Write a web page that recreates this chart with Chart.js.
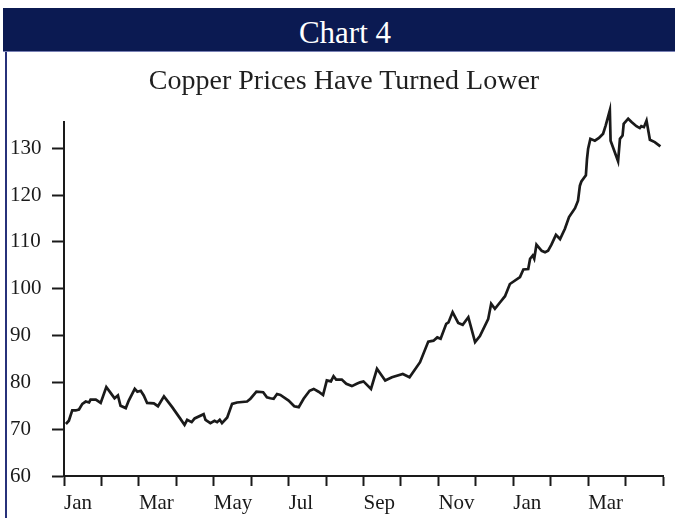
<!DOCTYPE html>
<html>
<head>
<meta charset="utf-8">
<script src="https://cdn.jsdelivr.net/npm/chart.js@4"></script>
<style>
html,body{margin:0;padding:0;background:#fff;width:675px;height:518px;overflow:hidden;}
#wrap{position:absolute;left:0;top:0;width:675px;height:518px;}
#band{position:absolute;left:3px;top:8px;width:672px;height:44px;background:#0b1a52;border-bottom:1px solid #7880b4;box-sizing:border-box;}
#band span{position:absolute;left:342px;transform:translateX(-50%);top:9px;color:#fff;font-family:"Liberation Serif",serif;font-size:31px;line-height:1;white-space:nowrap;}
#rule{position:absolute;left:5px;top:52px;width:2px;height:466px;background:#27317a;}
#sub{position:absolute;left:344px;transform:translateX(-50%);top:66px;font-family:"Liberation Serif",serif;font-size:28px;line-height:1;color:#1f1f1f;white-space:nowrap;}
</style>
</head>
<body>
<div id="wrap"><canvas id="c" width="675" height="518"></canvas></div>
<div id="band"><span>Chart 4</span></div>
<div id="rule"></div>
<div id="sub">Copper Prices Have Turned Lower</div>
<script>
// Month tick labels (one tick per month, Jan of year 1 to May of year 2)
const monthLabels = ['Jan','Feb','Mar','Apr','May','Jun','Jul','Aug','Sep','Oct','Nov','Dec','Jan','Feb','Mar','Apr','May'];
// Y tick values
const yTicks = [60, 70, 80, 90, 100, 110, 120, 130];
// Position of each observation, in months since the start of the first January
const monthPos = [
  0.05,0.13,0.22,0.31,0.40,0.49,0.58,0.67,0.71,0.85,0.98,
  1.13,1.25,1.35,1.44,1.51,1.65,1.73,1.89,1.96,
  2.05,2.13,2.22,2.40,2.51,2.67,2.89,
  3.11,3.22,3.29,3.41,3.49,3.73,3.78,3.91,
  4.02,4.09,4.16,4.22,4.36,4.49,4.62,4.89,4.98,
  5.14,5.32,5.42,5.51,5.60,5.69,5.78,
  6.00,6.15,6.27,6.40,6.56,6.67,6.80,6.92,
  7.02,7.13,7.20,7.27,7.42,7.54,7.69,7.82,7.91,
  8.00,8.20,8.36,8.58,8.76,
  9.05,9.23,9.51,9.73,9.87,9.97,
  10.06,10.21,10.27,10.38,10.53,10.65,10.80,10.98,
  11.11,11.33,11.41,11.51,11.65,11.78,11.91,
  12.18,12.27,12.40,12.45,12.52,12.56,12.62,12.76,12.85,12.93,
  13.02,13.14,13.25,13.38,13.49,13.65,13.73,13.78,13.82,13.94,13.97,
  14.00,14.06,14.18,14.29,14.40,14.47,14.58,14.60,14.80,14.85,14.92,14.95,
  15.07,15.16,15.29,15.38,15.42,15.49,15.56,15.65,15.78,15.93
];
// Copper price index
const price = [
  71.1,71.8,74.0,74.0,74.2,75.4,75.9,75.7,76.3,76.3,75.6,
  79.0,77.7,76.6,77.2,75.0,74.5,76.1,78.6,78.0,
  78.2,77.2,75.6,75.5,74.9,77.0,74.7,
  72.2,70.9,72.0,71.5,72.3,73.2,72.0,71.3,
  71.8,71.5,72.0,71.3,72.5,75.4,75.7,75.9,76.5,
  78.0,77.9,76.8,76.6,76.5,77.5,77.3,
  76.1,74.9,74.7,76.5,78.2,78.6,78.0,77.3,
  80.4,80.2,81.3,80.6,80.6,79.7,79.2,79.7,80.0,
  80.2,78.6,82.9,80.4,81.1,
  81.8,81.1,84.3,88.7,88.9,89.6,
  89.3,92.5,92.8,95.0,92.7,92.3,93.9,88.6,
  89.9,93.5,96.8,95.7,97.1,98.4,101.0,
  102.5,104.1,104.2,106.4,107.1,106.4,109.4,108.1,107.8,108.1,
  109.4,111.5,110.6,112.8,115.3,117.2,118.8,122.0,122.9,124.2,127.7,
  129.9,132.0,131.6,132.2,133.1,134.9,138.1,131.6,127.2,132.0,132.7,135.2,
  136.3,135.6,134.7,134.3,134.7,134.5,135.9,131.8,131.3,130.4
];

const ink = '#1a1a1a';
const tickFont = {family: 'Liberation Serif', size: 21};

new Chart(document.getElementById('c'), {
  type: 'line',
  data: {
    datasets: [{
      data: monthPos.map((m, i) => ({x: m, y: price[i]})),
      borderColor: ink,
      borderWidth: 2.7,
      pointRadius: 0,
      tension: 0,
      fill: false,
      clip: false
    }]
  },
  options: {
    responsive: false,
    animation: false,
    devicePixelRatio: 1,
    layout: {padding: {left: 10, right: 12, top: 122, bottom: 0}},
    plugins: {legend: {display: false}, tooltip: {enabled: false}, title: {display: false}},
    scales: {
      x: {
        type: 'linear',
        min: 0,
        max: monthLabels.length - 1,
        afterBuildTicks: s => { s.ticks = monthLabels.map((_, i) => ({value: i})); },
        afterFit: s => { s.height = 42; },
        grid: {drawOnChartArea: false, drawTicks: true, tickLength: 10, tickWidth: 2, tickColor: ink},
        border: {display: true, color: ink, width: 2},
        ticks: {
          autoSkip: false, maxRotation: 0, minRotation: 0, align: 'start', padding: 5,
          color: ink, font: tickFont,
          callback: v => (v % 2 === 0 && v < monthLabels.length - 1) ? monthLabels[v] : ''
        }
      },
      y: {
        min: 60,
        max: 135.6,
        afterBuildTicks: s => { s.ticks = yTicks.map(v => ({value: v})); },
        afterFit: s => { s.width = 54; },
        grid: {drawOnChartArea: false, drawTicks: true, tickLength: 12, tickWidth: 2, tickColor: ink},
        border: {display: true, color: ink, width: 2},
        ticks: {crossAlign: 'far', padding: 0, color: ink, font: tickFont}
      }
    }
  }
});
</script>
</body>
</html>
